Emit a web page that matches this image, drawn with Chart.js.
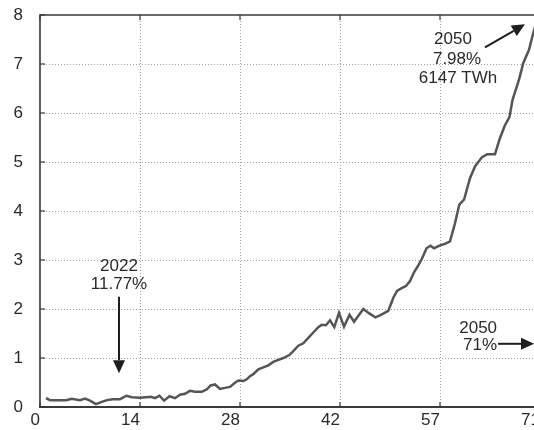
<!DOCTYPE html>
<html>
<head>
<meta charset="utf-8">
<script src="https://cdn.jsdelivr.net/npm/chart.js@4.4.1/dist/chart.umd.min.js"></script>
<style>
  html, body { margin: 0; padding: 0; background: #fff; }
  #wrap { width: 534px; height: 430px; overflow: hidden; position: relative; }
  canvas { display: block; }
</style>
</head>
<body>
<div id="wrap"><canvas id="c" width="545" height="430"></canvas></div>
<script>
// Series: position along the x axis and the plotted value
const xs = [0.85,1.42,2.56,3.69,4.50,5.68,6.39,7.10,7.95,8.66,9.51,10.37,11.36,12.28,13.06,14.20,
  15.05,15.76,16.33,16.97,17.61,18.39,19.17,19.88,20.59,21.30,22.01,22.96,23.67,24.24,24.85,25.56,
  26.27,26.98,27.55,28.16,28.87,29.40,29.82,30.29,31.00,31.71,32.42,33.13,33.84,34.55,35.40,35.97,
  36.68,37.39,38.10,38.81,39.52,40.00,40.61,41.18,41.79,42.46,43.17,43.95,44.59,45.91,46.76,47.61,
  48.28,49.46,50.17,50.70,51.41,51.97,52.54,53.11,53.72,54.25,54.88,55.45,55.95,56.80,57.51,58.22,
  58.93,59.54,60.21,61.06,61.77,62.77,63.52,64.61,65.25,65.96,66.67,67.10,68.02,68.63,69.44,69.91,
  70.43,71.00];
const ys = [0.18,0.14,0.14,0.14,0.17,0.14,0.17,0.13,0.06,0.10,0.14,0.16,0.16,0.23,0.20,0.19,
  0.20,0.21,0.18,0.23,0.13,0.22,0.18,0.25,0.27,0.33,0.31,0.31,0.36,0.44,0.46,0.37,
  0.39,0.41,0.48,0.54,0.53,0.57,0.63,0.67,0.77,0.81,0.85,0.92,0.96,1.00,1.06,1.14,
  1.25,1.30,1.41,1.52,1.63,1.68,1.67,1.77,1.63,1.92,1.64,1.88,1.74,2.00,1.91,1.83,
  1.87,1.96,2.23,2.37,2.43,2.47,2.57,2.75,2.89,3.03,3.24,3.29,3.24,3.30,3.33,3.38,
  3.75,4.13,4.23,4.67,4.91,5.10,5.16,5.16,5.46,5.73,5.92,6.27,6.68,7.02,7.29,7.56,
  7.83,7.98];

// Axis labels
const xTickLabels = ['0', '14', '28', '42', '57', '71'];
const xMax = 71;
const yMax = 8;

// Callout texts (data coordinates) and arrows
const notes = [
  { text: '2022',     x: 11.22, y: 2.88, align: 'center' },
  { text: '11.77%',   x: 11.22, y: 2.50, align: 'center' },
  { text: '2050',     x: 58.65, y: 7.50, align: 'center' },
  { text: '7.98%',    x: 59.22, y: 7.09, align: 'center' },
  { text: '6147 TWh', x: 59.36, y: 6.70, align: 'center' },
  { text: '2050',     x: 64.90, y: 1.60, align: 'right' },
  { text: '71%',      x: 64.90, y: 1.26, align: 'right' }
];
const arrows = [
  { from: [11.22, 2.25], to: [11.22, 0.69] },
  { from: [63.19, 7.34], to: [68.87, 7.81] },
  { from: [65.04, 1.29], to: [70.15, 1.29] }
];

const FONT = '"Liberation Sans", Arial, Helvetica, sans-serif';
const INK = '#2a2a2a';

// keep the plot box exactly where the layout padding puts it
function noEdgePadding(scale) {
  scale.paddingTop = 0;
  scale.paddingBottom = 0;
  scale.paddingLeft = 0;
  scale.paddingRight = 0;
}

const framePlugin = {
  id: 'frame',
  beforeDatasetsDraw(chart) {
    const { ctx, chartArea: a, scales: { x, y } } = chart;
    ctx.save();
    ctx.strokeStyle = '#a0a0a0';
    ctx.lineWidth = 1;
    ctx.setLineDash([1, 2]);
    x.ticks.forEach(t => {
      const px = Math.round(x.getPixelForValue(t.value)) + 0.5;
      if (px < a.left + 2) return;
      ctx.beginPath(); ctx.moveTo(px, a.top); ctx.lineTo(px, a.bottom); ctx.stroke();
    });
    y.ticks.forEach(t => {
      const py = Math.round(y.getPixelForValue(t.value)) + 0.5;
      if (py > a.bottom - 2 || py < a.top + 2) return;
      ctx.beginPath(); ctx.moveTo(a.left, py); ctx.lineTo(a.right, py); ctx.stroke();
    });
    ctx.restore();
  },
  afterDatasetsDraw(chart) {
    const { ctx, chartArea: a, scales: { x, y } } = chart;
    ctx.save();
    ctx.setLineDash([]);
    ctx.strokeStyle = '#3a3a3a';
    // frame: left, top, bottom
    ctx.lineWidth = 1.6;
    ctx.beginPath();
    ctx.moveTo(a.left, a.bottom); ctx.lineTo(a.left, a.top); ctx.lineTo(a.right, a.top);
    ctx.stroke();
    ctx.lineWidth = 2.2;
    ctx.beginPath(); ctx.moveTo(a.left - 1, a.bottom); ctx.lineTo(a.right, a.bottom); ctx.stroke();
    // inward tick marks
    ctx.lineWidth = 1.2;
    const tl = 5;
    y.ticks.forEach(t => {
      const py = y.getPixelForValue(t.value);
      ctx.beginPath(); ctx.moveTo(a.left, py); ctx.lineTo(a.left + tl, py); ctx.stroke();
      ctx.beginPath(); ctx.moveTo(a.right, py); ctx.lineTo(a.right - tl, py); ctx.stroke();
    });
    x.ticks.forEach(t => {
      const px = x.getPixelForValue(t.value);
      ctx.beginPath(); ctx.moveTo(px, a.bottom); ctx.lineTo(px, a.bottom - tl); ctx.stroke();
      ctx.beginPath(); ctx.moveTo(px, a.top); ctx.lineTo(px, a.top + tl); ctx.stroke();
    });
    ctx.restore();

    // callouts
    ctx.save();
    ctx.fillStyle = INK;
    ctx.font = '17px ' + FONT;
    ctx.textBaseline = 'middle';
    notes.forEach(n => {
      ctx.textAlign = n.align;
      ctx.fillText(n.text, x.getPixelForValue(n.x), y.getPixelForValue(n.y));
    });
    ctx.strokeStyle = '#1e1e1e';
    ctx.fillStyle = '#1e1e1e';
    ctx.lineWidth = 2;
    arrows.forEach(ar => {
      const x0 = x.getPixelForValue(ar.from[0]), y0 = y.getPixelForValue(ar.from[1]);
      const x1 = x.getPixelForValue(ar.to[0]), y1 = y.getPixelForValue(ar.to[1]);
      const ang = Math.atan2(y1 - y0, x1 - x0);
      const hl = 13, hw = 6;
      const bx = x1 - hl * Math.cos(ang), by = y1 - hl * Math.sin(ang);
      ctx.beginPath(); ctx.moveTo(x0, y0); ctx.lineTo(bx, by); ctx.stroke();
      ctx.beginPath();
      ctx.moveTo(x1, y1);
      ctx.lineTo(bx + hw * Math.sin(ang), by - hw * Math.cos(ang));
      ctx.lineTo(bx - hw * Math.sin(ang), by + hw * Math.cos(ang));
      ctx.closePath(); ctx.fill();
    });
    ctx.restore();
  }
};

new Chart(document.getElementById('c'), {
  type: 'line',
  data: {
    datasets: [{
      data: xs.map((v, i) => ({ x: v, y: ys[i] })),
      borderColor: '#555555',
      borderWidth: 2.5,
      pointRadius: 0,
      tension: 0,
      fill: false
    }]
  },
  options: {
    responsive: false,
    animation: false,
    devicePixelRatio: 1,
    layout: { padding: { top: 15, right: 5, left: 0, bottom: 0 } },
    plugins: { legend: { display: false }, tooltip: { enabled: false } },
    scales: {
      x: {
        type: 'linear',
        min: 0,
        max: xMax,
        afterBuildTicks(scale) {
          scale.ticks = xTickLabels.map((_, i) => ({ value: i * xMax / (xTickLabels.length - 1) }));
        },
        afterFit(scale) { scale.height = 23; noEdgePadding(scale); },
        grid: { display: false, drawTicks: false },
        border: { display: false },
        ticks: {
          autoSkip: false,
          maxRotation: 0,
          align: 'end',
          padding: 3,
          color: INK,
          font: { family: FONT, size: 17 },
          callback: (v, i) => xTickLabels[i]
        }
      },
      y: {
        type: 'linear',
        min: 0,
        max: yMax,
        afterFit(scale) { scale.width = 40; noEdgePadding(scale); },
        grid: { display: false, drawTicks: false },
        border: { display: false },
        ticks: {
          stepSize: 1,
          padding: 17,
          color: INK,
          font: { family: FONT, size: 17 }
        }
      }
    }
  },
  plugins: [framePlugin]
});
</script>
</body>
</html>
